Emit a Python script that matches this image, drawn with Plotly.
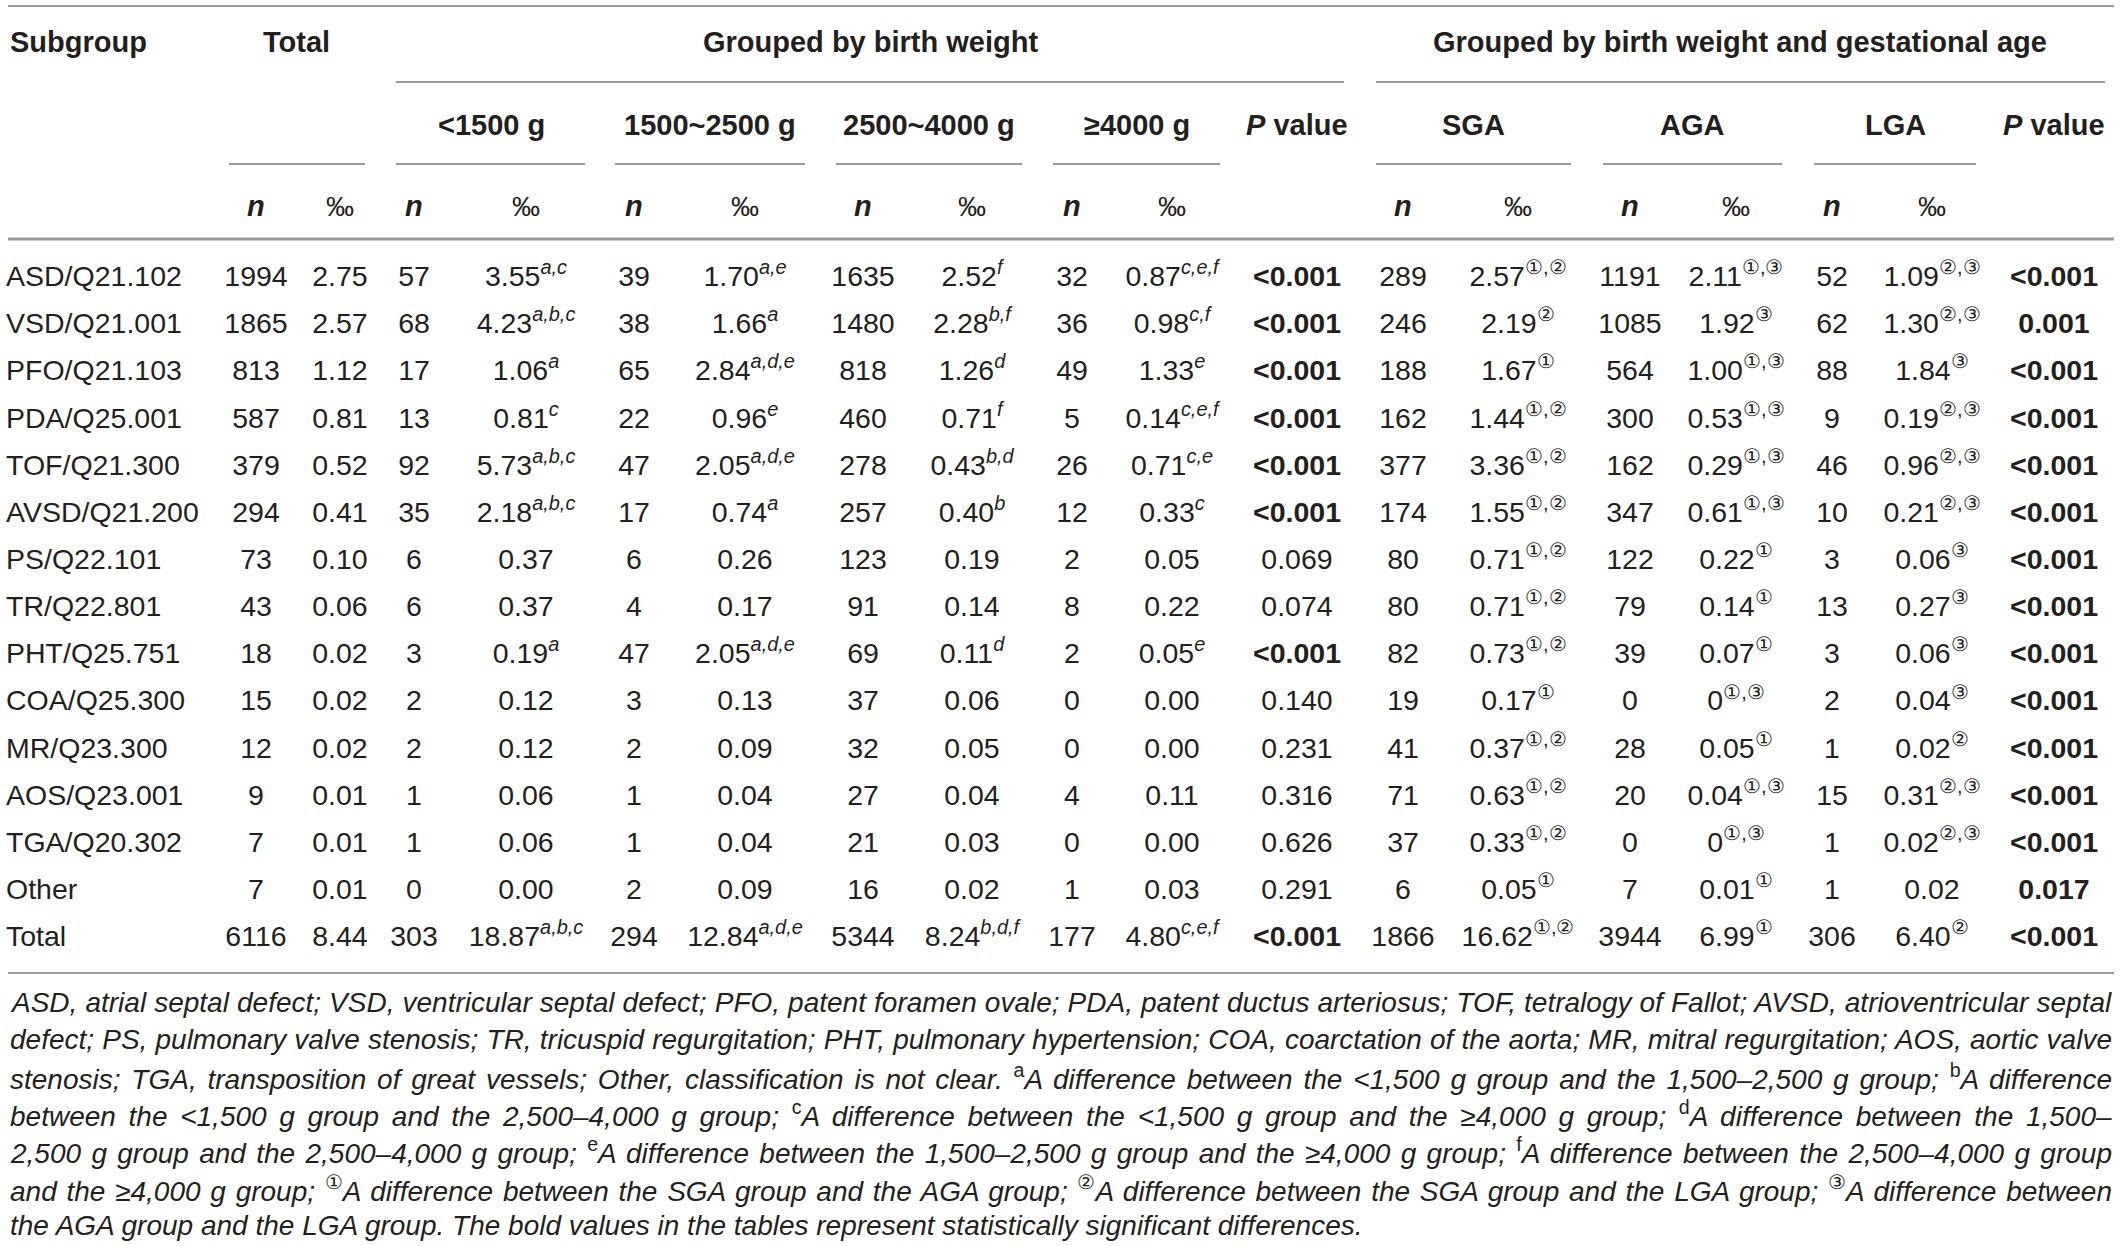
import plotly.graph_objects as go

# table values
subgroups = ["ASD/Q21.102", "VSD/Q21.001", "PFO/Q21.103", "PDA/Q25.001", "TOF/Q21.300",
             "AVSD/Q21.200", "PS/Q22.101", "TR/Q22.801", "PHT/Q25.751", "COA/Q25.300",
             "MR/Q23.300", "AOS/Q23.001", "TGA/Q20.302", "Other", "Total"]

total_n = [1994, 1865, 813, 587, 379, 294, 73, 43, 18, 15, 12, 9, 7, 7, 6116]
total_rate = ["2.75", "2.57", "1.12", "0.81", "0.52", "0.41", "0.10", "0.06", "0.02", "0.02",
              "0.02", "0.01", "0.01", "0.01", "8.44"]

bw1_n = [57, 68, 17, 13, 92, 35, 6, 6, 3, 2, 2, 1, 1, 0, 303]
bw1_rate = ["3.55", "4.23", "1.06", "0.81", "5.73", "2.18", "0.37", "0.37", "0.19", "0.12",
            "0.12", "0.06", "0.06", "0.00", "18.87"]
bw1_sig = ["a,c", "a,b,c", "a", "c", "a,b,c", "a,b,c", "", "", "a", "", "", "", "", "", "a,b,c"]

bw2_n = [39, 38, 65, 22, 47, 17, 6, 4, 47, 3, 2, 1, 1, 2, 294]
bw2_rate = ["1.70", "1.66", "2.84", "0.96", "2.05", "0.74", "0.26", "0.17", "2.05", "0.13",
            "0.09", "0.04", "0.04", "0.09", "12.84"]
bw2_sig = ["a,e", "a", "a,d,e", "e", "a,d,e", "a", "", "", "a,d,e", "", "", "", "", "", "a,d,e"]

bw3_n = [1635, 1480, 818, 460, 278, 257, 123, 91, 69, 37, 32, 27, 21, 16, 5344]
bw3_rate = ["2.52", "2.28", "1.26", "0.71", "0.43", "0.40", "0.19", "0.14", "0.11", "0.06",
            "0.05", "0.04", "0.03", "0.02", "8.24"]
bw3_sig = ["f", "b,f", "d", "f", "b,d", "b", "", "", "d", "", "", "", "", "", "b,d,f"]

bw4_n = [32, 36, 49, 5, 26, 12, 2, 8, 2, 0, 0, 4, 0, 1, 177]
bw4_rate = ["0.87", "0.98", "1.33", "0.14", "0.71", "0.33", "0.05", "0.22", "0.05", "0.00",
            "0.00", "0.11", "0.00", "0.03", "4.80"]
bw4_sig = ["c,e,f", "c,f", "e", "c,e,f", "c,e", "c", "", "", "e", "", "", "", "", "", "c,e,f"]

p_bw = ["<0.001", "<0.001", "<0.001", "<0.001", "<0.001", "<0.001", "0.069", "0.074",
        "<0.001", "0.140", "0.231", "0.316", "0.626", "0.291", "<0.001"]

sga_n = [289, 246, 188, 162, 377, 174, 80, 80, 82, 19, 41, 71, 37, 6, 1866]
sga_rate = ["2.57", "2.19", "1.67", "1.44", "3.36", "1.55", "0.71", "0.71", "0.73", "0.17",
            "0.37", "0.63", "0.33", "0.05", "16.62"]
sga_sig = ["①,②", "②", "①", "①,②", "①,②", "①,②", "①,②", "①,②", "①,②", "①",
           "①,②", "①,②", "①,②", "①", "①,②"]

aga_n = [1191, 1085, 564, 300, 162, 347, 122, 79, 39, 0, 28, 20, 0, 7, 3944]
aga_rate = ["2.11", "1.92", "1.00", "0.53", "0.29", "0.61", "0.22", "0.14", "0.07", "0",
            "0.05", "0.04", "0", "0.01", "6.99"]
aga_sig = ["①,③", "③", "①,③", "①,③", "①,③", "①,③", "①", "①", "①", "①,③",
           "①", "①,③", "①,③", "①", "①"]

lga_n = [52, 62, 88, 9, 46, 10, 3, 13, 3, 2, 1, 15, 1, 1, 306]
lga_rate = ["1.09", "1.30", "1.84", "0.19", "0.96", "0.21", "0.06", "0.27", "0.06", "0.04",
            "0.02", "0.31", "0.02", "0.02", "6.40"]
lga_sig = ["②,③", "②,③", "③", "②,③", "②,③", "②,③", "③", "③", "③", "③",
           "②", "②,③", "②,③", "", "②"]

p_bwga = ["<0.001", "0.001", "<0.001", "<0.001", "<0.001", "<0.001", "<0.001", "<0.001",
          "<0.001", "<0.001", "<0.001", "<0.001", "<0.001", "0.017", "<0.001"]

footnote_lines = [
    "<i>ASD, atrial septal defect; VSD, ventricular septal defect; PFO, patent foramen ovale; PDA, patent ductus arteriosus; TOF, tetralogy of Fallot; AVSD, atrioventricular septal</i>",
    "<i>defect; PS, pulmonary valve stenosis; TR, tricuspid regurgitation; PHT, pulmonary hypertension; COA, coarctation of the aorta; MR, mitral regurgitation; AOS, aortic valve</i>",
    "<i>stenosis; TGA, transposition of great vessels; Other, classification is not clear. </i><sup>a</sup><i>A difference between the &lt;1,500 g group and the 1,500–2,500 g group; </i><sup>b</sup><i>A difference</i>",
    "<i>between the &lt;1,500 g group and the 2,500–4,000 g group; </i><sup>c</sup><i>A difference between the &lt;1,500 g group and the ≥4,000 g group; </i><sup>d</sup><i>A difference between the 1,500–</i>",
    "<i>2,500 g group and the 2,500–4,000 g group; </i><sup>e</sup><i>A difference between the 1,500–2,500 g group and the ≥4,000 g group; </i><sup>f</sup><i>A difference between the 2,500–4,000 g group</i>",
    "<i>and the ≥4,000 g group; </i><sup>①</sup><i>A difference between the SGA group and the AGA group; </i><sup>②</sup><i>A difference between the SGA group and the LGA group; </i><sup>③</sup><i>A difference between</i>",
    "<i>the AGA group and the LGA group. The bold values in the tables represent statistically significant differences.</i>",
]

# layout (pixel positions of the reference page)
FONT = "Liberation Sans, Arial, Helvetica, sans-serif"
INK = "#231f20"
RULE = "#9a9a9a"
ROW0, ROWSTEP = 279, 47.15
rows_y = [ROW0 + i * ROWSTEP for i in range(len(subgroups))]


def rate_text(vals, marks):
    out = []
    for v, m in zip(vals, marks):
        if not m:
            out.append(v)
        elif m[0] in "①②③":
            out.append(f"{v}<sup>{m}</sup>")
        else:
            out.append(f"{v}<sup><i>{m}</i></sup>")
    return out


def p_text(vals):
    out = []
    for v in vals:
        sig = v.startswith("<") or float(v) < 0.05
        s = v.replace("<", "&lt;")
        out.append(f"<b>{s}</b>" if sig else s)
    return out


no_marks = [""] * len(subgroups)
columns = [
    ([str(v) for v in total_n], 256),
    (rate_text(total_rate, no_marks), 340),
    ([str(v) for v in bw1_n], 414),
    (rate_text(bw1_rate, bw1_sig), 526),
    ([str(v) for v in bw2_n], 634),
    (rate_text(bw2_rate, bw2_sig), 745),
    ([str(v) for v in bw3_n], 863),
    (rate_text(bw3_rate, bw3_sig), 972),
    ([str(v) for v in bw4_n], 1072),
    (rate_text(bw4_rate, bw4_sig), 1172),
    (p_text(p_bw), 1297),
    ([str(v) for v in sga_n], 1403),
    (rate_text(sga_rate, sga_sig), 1518),
    ([str(v) for v in aga_n], 1630),
    (rate_text(aga_rate, aga_sig), 1736),
    ([str(v) for v in lga_n], 1832),
    (rate_text(lga_rate, lga_sig), 1932),
    (p_text(p_bwga), 2054),
]

fig = go.Figure()

# subgroup labels
fig.add_trace(go.Scatter(
    x=[6] * len(subgroups), y=rows_y, text=subgroups,
    mode="text", textposition="middle right", cliponaxis=False,
    textfont=dict(family=FONT, size=28.5, color=INK),
    hoverinfo="skip", showlegend=False,
))

for texts, cx in columns:
    fig.add_trace(go.Scatter(
        x=[cx] * len(texts), y=rows_y, text=texts,
        mode="text", textposition="middle center", cliponaxis=False,
        textfont=dict(family=FONT, size=28.5, color=INK),
        hoverinfo="skip", showlegend=False,
    ))

# header text
headers = [
    ("<b>Subgroup</b>", 8, 42, "left"),
    ("<b>Total</b>", 296, 42, "center"),
    ("<b>Grouped by birth weight</b>", 870, 42, "center"),
    ("<b>Grouped by birth weight and gestational age</b>", 1740, 42, "center"),
    ("<b>&lt;1500 g</b>", 491, 125, "center"),
    ("<b>1500~2500 g</b>", 710, 125, "center"),
    ("<b>2500~4000 g</b>", 929, 125, "center"),
    ("<b>≥4000 g</b>", 1137, 125, "center"),
    ("<b><i>P</i> value</b>", 1297, 125, "center"),
    ("<b>SGA</b>", 1473, 125, "center"),
    ("<b>AGA</b>", 1692, 125, "center"),
    ("<b>LGA</b>", 1895, 125, "center"),
    ("<b><i>P</i> value</b>", 2054, 125, "center"),
]
for txt, x, y, anchor in headers:
    fig.add_annotation(x=x, y=y, text=txt, xanchor=anchor, yanchor="middle",
                       showarrow=False, font=dict(family=FONT, size=29, color=INK))

for cx_n, cx_r in [(256, 340), (414, 526), (634, 745), (863, 972), (1072, 1172),
                   (1403, 1518), (1630, 1736), (1832, 1932)]:
    fig.add_annotation(x=cx_n, y=206, text="<b><i>n</i></b>", showarrow=False,
                       font=dict(family=FONT, size=29, color=INK))
    fig.add_annotation(x=cx_r, y=206, text="‰", showarrow=False,
                       font=dict(family=FONT, size=28, color=INK))

# rules
rules = [
    (8, 2114, 6, 2),
    (396, 1344, 82, 2), (1376, 2105, 82, 2),
    (229, 365, 164, 2), (396, 585, 164, 2), (615, 805, 164, 2), (836, 1022, 164, 2),
    (1053, 1220, 164, 2), (1376, 1571, 164, 2), (1603, 1782, 164, 2), (1814, 1976, 164, 2),
    (8, 2114, 239, 3),
    (8, 2114, 973, 2),
]
for x0, x1, y, w in rules:
    fig.add_shape(type="line", x0=x0, x1=x1, y0=y, y1=y,
                  line=dict(color=RULE, width=w))

# footnote
first_note = len(fig.layout.annotations)
for i, line in enumerate(footnote_lines):
    fig.add_annotation(x=8, y=1002 + i * 37.3, text=line, xanchor="left", yanchor="middle",
                       align="left", showarrow=False,
                       font=dict(family=FONT, size=28, color=INK))

fig.update_layout(
    width=2120, height=1246,
    margin=dict(l=0, r=0, t=0, b=0),
    paper_bgcolor="white", plot_bgcolor="white",
    xaxis=dict(range=[0, 2120], visible=False, fixedrange=True),
    yaxis=dict(range=[1246, 0], visible=False, fixedrange=True),
    showlegend=False,
)

# drop the page margin and justify the footnote lines (all but the last) to the right rule
justify = """
document.body.style.margin = '0';
var gd = document.getElementById('{plot_id}');
for (var k = %d; k < %d; k++) {
    var t = gd.querySelector('.annotation[data-index="' + k + '"] text.annotation-text');
    if (!t) continue;
    var n = (t.textContent.match(/[ \\u00a0]/g) || []).length;
    if (!n) continue;
    var r = t.getBoundingClientRect();
    t.style.wordSpacing = ((2112 - r.right) / n) + 'px';
}
""" % (first_note, first_note + len(footnote_lines) - 1)

fig.write_html("out.html", config={"displayModeBar": False}, post_script=justify)
